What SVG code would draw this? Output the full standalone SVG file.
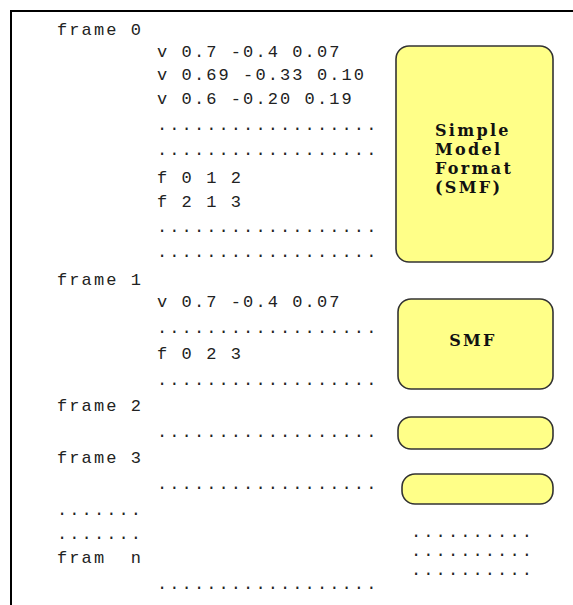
<svg xmlns="http://www.w3.org/2000/svg" width="573" height="605" viewBox="0 0 573 605">
<style>
.m{font-family:"Liberation Mono","DejaVu Sans Mono",monospace;font-size:17px;letter-spacing:2.1px;fill:#222;white-space:pre}
.box{fill:#ffff88;stroke:#333;stroke-width:1.6}
.lb{font-family:"DejaVu Serif","Liberation Serif",serif;font-weight:bold;font-size:16px;letter-spacing:2.3px;fill:#111}
</style>
<rect width="573" height="605" fill="#fff"/>
<rect x="11" y="11" width="600" height="640" fill="none" stroke="#000" stroke-width="2"/>
<g id="listing">
<text class="m" x="57" y="35">frame 0</text>
<text class="m" x="157" y="57">v 0.7 -0.4 0.07</text>
<text class="m" x="157" y="80">v 0.69 -0.33 0.10</text>
<text class="m" x="157" y="104">v 0.6 -0.20 0.19</text>
<text class="m" x="157" y="130">..................</text>
<text class="m" x="157" y="155">..................</text>
<text class="m" x="157" y="183">f 0 1 2</text>
<text class="m" x="157" y="207">f 2 1 3</text>
<text class="m" x="157" y="232">..................</text>
<text class="m" x="157" y="257">..................</text>
<text class="m" x="57" y="285">frame 1</text>
<text class="m" x="157" y="307">v 0.7 -0.4 0.07</text>
<text class="m" x="157" y="333">..................</text>
<text class="m" x="157" y="359">f 0 2 3</text>
<text class="m" x="157" y="385">..................</text>
<text class="m" x="57" y="411">frame 2</text>
<text class="m" x="157" y="437">..................</text>
<text class="m" x="57" y="463">frame 3</text>
<text class="m" x="157" y="489">..................</text>
<text class="m" x="57" y="515">.......</text>
<text class="m" x="57" y="539">.......</text>
<text class="m" x="57" y="563">fram  n</text>
<text class="m" x="157" y="589">..................</text>
</g>
<g id="smf0">
<rect class="box" x="396" y="46" width="157" height="216" rx="13"/>
<text class="lb" x="435" y="136">Simple</text>
<text class="lb" x="435" y="155">Model</text>
<text class="lb" x="435" y="174">Format</text>
<text class="lb" x="435" y="193">(SMF)</text>
</g>
<g id="smf1">
<rect class="box" x="398" y="299" width="155" height="90" rx="13"/>
<text class="lb" x="473" y="346" text-anchor="middle">SMF</text>
</g>
<g id="smf2">
<rect class="box" x="398" y="417" width="155" height="32" rx="13"/>
</g>
<g id="smf3">
<rect class="box" x="402" y="474" width="151" height="30" rx="13"/>
</g>
<g id="more">
<text class="m" x="411" y="537">..........</text>
<text class="m" x="411" y="556">..........</text>
<text class="m" x="411" y="575">..........</text>
</g>
</svg>
